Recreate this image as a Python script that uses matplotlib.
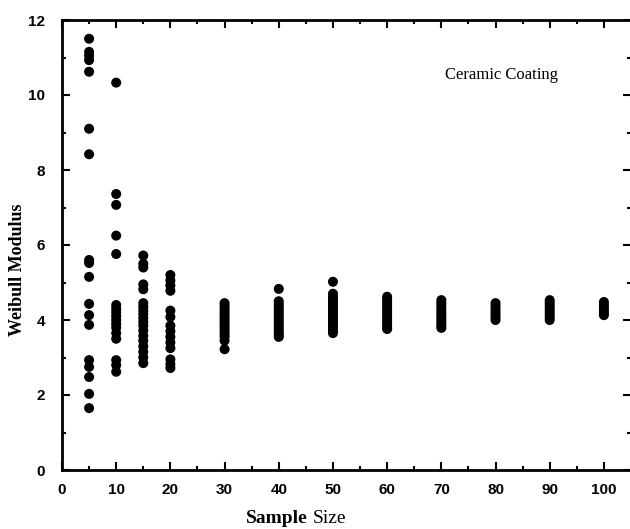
import matplotlib.pyplot as plt
from matplotlib.ticker import MultipleLocator

# Weibull modulus estimates for each sample size
sample_sizes = [5, 10, 15, 20, 30, 40, 50, 60, 70, 80, 90, 100]

modulus_n5 = [11.5, 11.15, 11.05, 10.93, 10.62, 9.1, 8.42, 5.6, 5.52, 5.15,
              4.43, 4.13, 3.87, 2.93, 2.75, 2.48, 2.03, 1.65]
modulus_n10 = [10.33, 7.36, 7.07, 6.25, 5.76, 4.4, 4.3, 4.2, 4.1, 4.0, 3.9,
               3.8, 3.65, 3.5, 2.93, 2.8, 2.62]
modulus_n15 = [5.72, 5.5, 5.4, 4.95, 4.82, 4.45, 4.35, 4.25, 4.15, 4.05,
               3.95, 3.85, 3.72, 3.58, 3.45, 3.3, 3.15, 3.0, 2.85]
modulus_n20 = [5.2, 5.05, 4.92, 4.78, 4.25, 4.08, 3.85, 3.7, 3.55, 3.4,
               3.25, 2.95, 2.82, 2.72]
modulus_n30 = [4.45, 4.38, 4.3, 4.22, 4.15, 4.08, 4.0, 3.92, 3.85, 3.78,
               3.7, 3.62, 3.55, 3.45, 3.22]
modulus_n40 = [4.83, 4.5, 4.42, 4.35, 4.27, 4.2, 4.12, 4.05, 3.97, 3.9,
               3.82, 3.75, 3.67, 3.6, 3.55]
modulus_n50 = [5.02, 4.7, 4.62, 4.55, 4.47, 4.4, 4.32, 4.25, 4.17, 4.1,
               4.02, 3.95, 3.87, 3.8, 3.72, 3.65]
modulus_n60 = [4.62, 4.55, 4.47, 4.4, 4.32, 4.25, 4.17, 4.1, 4.02, 3.95,
               3.87, 3.8, 3.76]
modulus_n70 = [4.53, 4.45, 4.38, 4.3, 4.22, 4.15, 4.07, 4.0, 3.92, 3.85, 3.79]
modulus_n80 = [4.45, 4.38, 4.3, 4.22, 4.15, 4.08, 4.0]
modulus_n90 = [4.53, 4.45, 4.38, 4.3, 4.22, 4.15, 4.07, 4.0]
modulus_n100 = [4.48, 4.4, 4.32, 4.25, 4.18, 4.13]

moduli = [modulus_n5, modulus_n10, modulus_n15, modulus_n20, modulus_n30,
          modulus_n40, modulus_n50, modulus_n60, modulus_n70, modulus_n80,
          modulus_n90, modulus_n100]

fig = plt.figure(figsize=(6.3, 5.29), dpi=100)
ax = fig.add_axes([62 / 630, 59 / 529, 569 / 630, 450 / 529])

for n, values in zip(sample_sizes, moduli):
    ax.scatter([n] * len(values), values, s=52, color='black',
               edgecolors='none', zorder=3)

ax.set_xlim(0, 105)
ax.set_ylim(0, 12)
ax.xaxis.set_major_locator(MultipleLocator(10))
ax.xaxis.set_minor_locator(MultipleLocator(5))
ax.yaxis.set_major_locator(MultipleLocator(2))
ax.yaxis.set_minor_locator(MultipleLocator(1))
ax.set_xticks(range(0, 101, 10))

ax.tick_params(which='both', direction='in', top=True, right=True,
               width=1.5, colors='black')
ax.tick_params(which='major', length=6)
ax.tick_params(which='minor', length=3)
ax.tick_params(axis='x', pad=9)
ax.tick_params(axis='y', pad=12)
for lbl in ax.get_xticklabels() + ax.get_yticklabels():
    lbl.set_family('Liberation Sans')
    lbl.set_fontweight('bold')
    lbl.set_fontsize(11)
for spine in ax.spines.values():
    spine.set_linewidth(2)

# axis titles placed directly on the figure
fig.text(18 / 630, 0.49, 'Weibull Modulus', family='Liberation Serif',
         fontweight='bold', fontsize=13, rotation=90,
         ha='center', va='center')
fig.text(0.488, 0.004, 'Sample', family='Liberation Serif',
         fontweight='bold', fontsize=14, ha='right', va='bottom')
fig.text(0.496, 0.004, 'Size', family='Liberation Serif',
         fontsize=14, ha='left', va='bottom')

ax.text(0.673, 0.878, 'Ceramic Coating', transform=ax.transAxes,
        family='Liberation Serif', fontsize=12, va='center')

fig.savefig('out.png', dpi=100)
